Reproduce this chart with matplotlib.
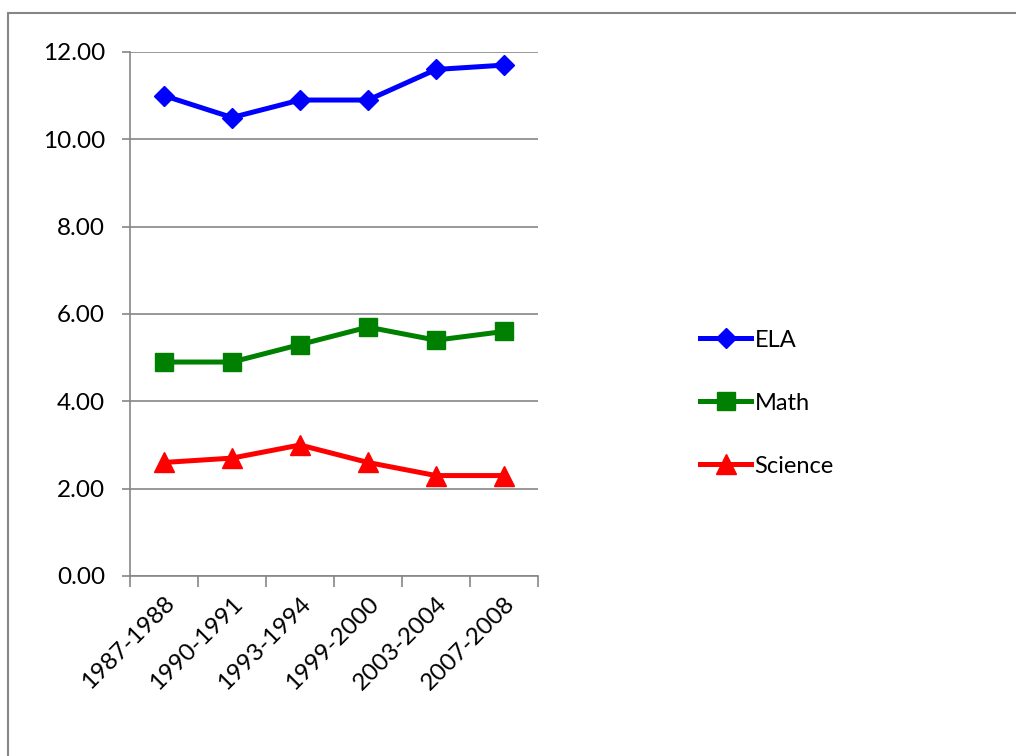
import numpy as np
import matplotlib
matplotlib.use('Agg')
import matplotlib.pyplot as plt
from matplotlib.patches import Rectangle

plt.rcParams['font.family'] = ['Lato', 'DejaVu Sans']

years = ['1987-1988', '1990-1991', '1993-1994', '1999-2000', '2003-2004', '2007-2008']
ela = [11.0, 10.5, 10.9, 10.9, 11.6, 11.7]
math_scores = [4.9, 4.9, 5.3, 5.7, 5.4, 5.6]
science = [2.6, 2.7, 3.0, 2.6, 2.3, 2.3]

fig = plt.figure(figsize=(10.16, 7.56), dpi=100)
ax = fig.add_axes([130 / 1016, 180 / 756, 408 / 1016, 524 / 756])

# outer chart border, cut off on right and bottom like the original
fig.patches.append(Rectangle((8 / 1016, -0.1), 1.2, (756 - 13) / 756 + 0.1,
                             transform=fig.transFigure, fill=False,
                             edgecolor='#868686', linewidth=1.5))

x = np.arange(len(years))
ax.plot(x, ela, color='#0000FF', lw=3.6, marker='D', ms=10.5, label='ELA')
ax.plot(x, math_scores, color='#008000', lw=3.6, marker='s', ms=13, label='Math')
ax.plot(x, science, color='#FF0000', lw=3.6, marker='^', ms=14, label='Science')

ax.set_xlim(-0.5, len(years) - 0.5)
ax.set_ylim(0, 12)
ax.set_yticks(np.arange(0, 13, 2))
ax.set_yticklabels(['%.2f' % v for v in np.arange(0, 13, 2)])
ax.set_xticks(x)
ax.set_xticklabels(years, rotation=45, ha='right', rotation_mode='anchor')
ax.set_xticks(np.arange(-0.5, len(years)), minor=True)

ax.grid(axis='y', color='#868686', lw=1.2)
ax.set_axisbelow(True)
for s in ['top', 'right']:
    ax.spines[s].set_visible(False)
for s in ['left', 'bottom']:
    ax.spines[s].set_color('#868686')
    ax.spines[s].set_linewidth(1.2)

ax.tick_params(axis='y', length=6, color='#868686', width=1.2, labelsize=17.5, pad=12)
ax.tick_params(axis='x', which='major', length=0, labelsize=17.5, pad=12)
ax.tick_params(axis='x', which='minor', length=8, color='#868686', width=1.2)

ax.legend(loc='center left', bbox_to_anchor=(679 / 408 - 130 / 408, 0.33), frameon=False,
          fontsize=17, labelspacing=1.78, handlelength=2.15, handletextpad=0.15)

fig.savefig('out.png', dpi=100)
